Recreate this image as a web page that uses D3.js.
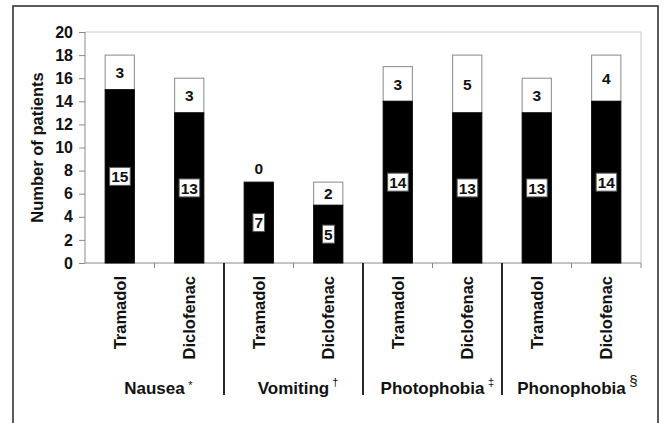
<!DOCTYPE html>
<html><head><meta charset="utf-8">
<script src="https://cdn.jsdelivr.net/npm/d3@7"></script>
<style>body{margin:0;background:#fff}svg{display:block}text{font-family:Arial,"Liberation Sans",sans-serif;font-weight:bold;fill:#111}</style>
</head><body><svg id="c" width="666" height="423"></svg>
<script>
const groups = ["Nausea","Vomiting","Photophobia","Phonophobia"];
const groupMarks = ["*","\u2020","\u2021","\u00A7"];
const drugs = ["Tramadol","Diclofenac"];
const blackValues = [15,13,7,5,14,13,13,14];
const whiteValues = [3,3,0,2,3,5,3,4];
const yTicks = [0,2,4,6,8,10,12,14,16,18,20];

const svg = d3.select("#c");
const L=85, R=641, T=32, B=263;
const cats = d3.range(8);
const x = d3.scaleBand().domain(cats).range([L,R]).paddingInner(0.58).paddingOuter(0.29);
const step = x.step();
const y = d3.scaleLinear().domain([0,20]).range([B,T]);

// outer frame
svg.append("rect").attr("x",13).attr("y",6).attr("width",645).attr("height",440)
  .attr("fill","none").attr("stroke","#333").attr("stroke-width",1.6);

// plot border lines (top, right)
svg.append("line").attr("x1",L).attr("x2",R).attr("y1",T).attr("y2",T).attr("stroke","#c8c8c8");
svg.append("line").attr("x1",R).attr("x2",R).attr("y1",T).attr("y2",B).attr("stroke","#c8c8c8");

// y axis
const ya = svg.append("g").attr("transform",`translate(${L},0)`)
  .call(d3.axisLeft(y).tickValues(yTicks).tickSize(6).tickPadding(6));
ya.selectAll("path,line").attr("stroke","#8a8a8a");
ya.select(".domain").attr("d",`M0,${T}V${B}`);
ya.selectAll("text").style("font-size","16px").style("font-family","Arial,'Liberation Sans',sans-serif").style("font-weight","bold").attr("fill","#111");

svg.append("text").attr("transform",`translate(43,${(T+B)/2}) rotate(-90)`)
  .attr("text-anchor","middle").style("font-size","16.5px").text("Number of patients");

// x axis line
svg.append("line").attr("x1",L).attr("x2",R).attr("y1",B).attr("y2",B).attr("stroke","#8a8a8a");
// minor ticks at band boundaries
cats.forEach(i=>{
  if(i%2===1){
    const xb = x(i) - step*0.29;
    svg.append("line").attr("x1",xb).attr("x2",xb).attr("y1",B).attr("y2",B+5).attr("stroke","#8a8a8a");
  }
});
svg.append("line").attr("x1",R).attr("x2",R).attr("y1",B).attr("y2",B+5).attr("stroke","#8a8a8a");
// group separators
[2,4,6].forEach(i=>{
  const xb = x(i) - step*0.29;
  svg.append("line").attr("x1",xb).attr("x2",xb).attr("y1",B).attr("y2",395).attr("stroke","#111").attr("stroke-width",1.8);
});

// bars
const bw = x.bandwidth();
cats.forEach(i=>{
  const b = blackValues[i], w = whiteValues[i];
  if(w>0){
    svg.append("rect").attr("x",x(i)).attr("y",y(b+w)).attr("width",bw).attr("height",y(b)-y(b+w))
      .attr("fill","#fff").attr("stroke","#888").attr("stroke-width",1);
  }
  svg.append("rect").attr("x",x(i)).attr("y",y(b)).attr("width",bw).attr("height",y(0)-y(b))
    .attr("fill","#000").attr("stroke","#000").attr("stroke-width",1);
  // black label with box
  const cx = x(i)+bw/2, cy = y(b/2);
  const t = svg.append("text").attr("x",cx).attr("y",cy).attr("dy","0.36em").attr("text-anchor","middle")
    .style("font-size","15.5px").text(b);
  const bb = t.node().getBBox();
  svg.insert("rect", () => t.node()).attr("x",bb.x-1.5).attr("y",cy-9).attr("width",bb.width+3).attr("height",18)
    .attr("fill","#fff").attr("stroke","#555").attr("stroke-width",1);
  // white label
  const wy = w>0 ? y(b+w/2) : y(b)-14;
  svg.append("text").attr("x",cx).attr("y",wy).attr("dy","0.36em").attr("text-anchor","middle")
    .style("font-size","15.5px").text(w);
  // drug label
  svg.append("text").attr("transform",`translate(${cx+6},276) rotate(-90)`).attr("text-anchor","end")
    .style("font-size","16.5px").text(drugs[i%2]);
});

// group labels
groups.forEach((g,k)=>{
  const gx = x(2*k) - step*0.29 + step;
  const t = svg.append("text").attr("x",gx).attr("y",394).attr("text-anchor","middle")
    .style("font-size","17px").text(g);
  const bb = t.node().getBBox();
  svg.append("text").attr("x",bb.x+bb.width+3).attr("y",k===0?389:386).style("font-size",k===3?"15px":"11px")
    .style("font-weight","normal").text(groupMarks[k]);
});
</script></body></html>
